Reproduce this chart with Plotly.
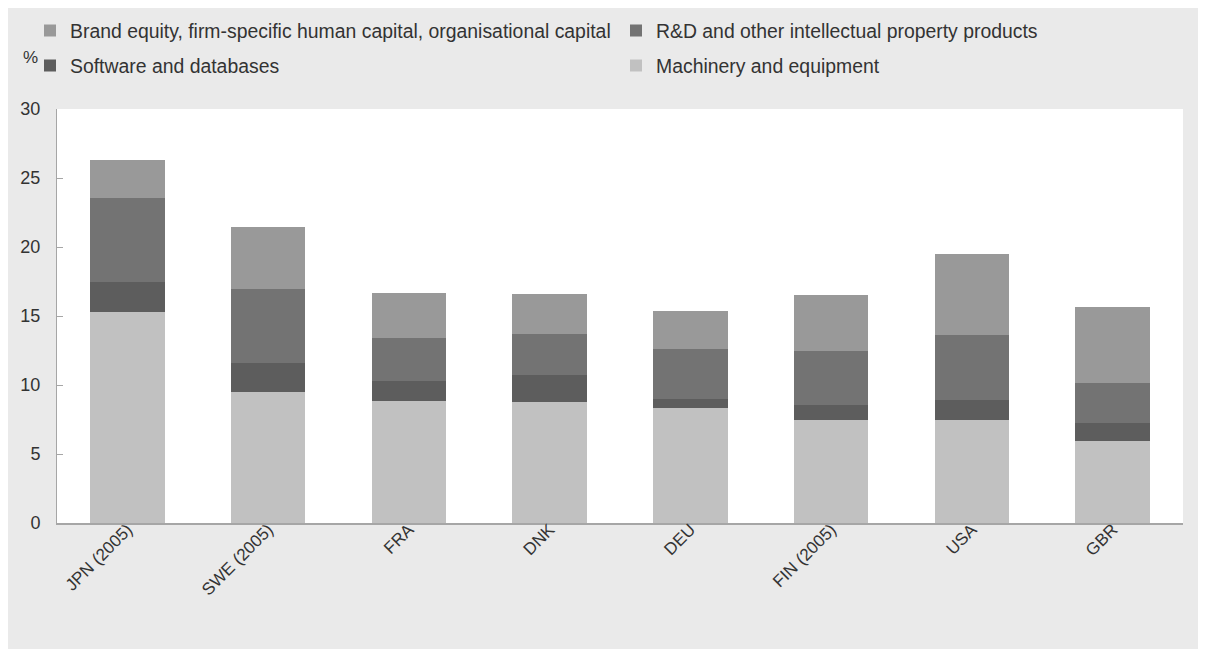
import plotly.graph_objects as go

countries = ["JPN (2005)", "SWE (2005)", "FRA", "DNK", "DEU", "FIN (2005)", "USA", "GBR"]
machinery = [15.27, 9.52, 8.86, 8.77, 8.31, 7.46, 7.46, 5.92]
software = [2.22, 2.05, 1.43, 1.95, 0.65, 1.07, 1.43, 1.35]
rnd = [6.08, 5.41, 3.14, 2.98, 3.62, 3.96, 4.71, 2.87]
brand = [2.71, 4.45, 3.26, 2.89, 2.81, 4.03, 5.87, 5.49]

names = {
    "brand": "Brand equity, firm-specific human capital, organisational capital",
    "rnd": "R&D and other intellectual property products",
    "software": "Software and databases",
    "machinery": "Machinery and equipment",
}
colors = {"brand": "#999999", "rnd": "#737373", "software": "#5d5d5d", "machinery": "#c1c1c1"}

FONT = "Liberation Sans, Arial, sans-serif"

# page is shown with an 8px body margin: lay out in figure coordinates = screen - 8
OFF = 8
W, H = 1206 - OFF, 641
L, T = 57 - OFF, 109 - OFF
R = W - (1183 - OFF)
B = H - (523 - OFF)
pw, ph = W - L - R, H - T - B


def px(xs):
    return (xs - OFF - L) / pw


def py(ys):
    return (H - B - (ys - OFF)) / ph


def cx(xs):
    return (xs - OFF) / W


def cy(ys):
    return 1 - (ys - OFF) / H


fig = go.Figure()
series = [("machinery", machinery, "legend4"), ("software", software, "legend3"),
          ("rnd", rnd, "legend2"), ("brand", brand, "legend")]
for key, vals, lg in series:
    fig.add_trace(go.Bar(
        x=countries, y=vals, name=names[key], marker_color=colors[key],
        marker_line_width=0, legend=lg,
    ))

LEGFONT = dict(size=19.4, color="#333333", family=FONT)


def leg(xs, ys):
    return dict(orientation="h", xref="container", yref="container", x=cx(xs), y=cy(ys),
                xanchor="left", yanchor="middle",
                bgcolor="rgba(0,0,0,0)", font=LEGFONT, itemclick=False, itemdoubleclick=False)


fig.update_layout(
    width=W, height=H,
    margin=dict(l=L, r=R, t=T, b=B, autoexpand=False),
    barmode="stack", bargap=0.47,
    paper_bgcolor="#eaeaea", plot_bgcolor="white",
    font=dict(family=FONT, size=18, color="#333333"),
    showlegend=True,
    legend=leg(30, 31),
    legend2=leg(616, 31),
    legend3=leg(30, 66),
    legend4=leg(616, 66),
    xaxis=dict(showline=True, linecolor="#a6a6a6", linewidth=2, ticks="", tickangle=-45,
               ticklabelstandoff=-12, tickfont=dict(size=17, color="#333333")),
    yaxis=dict(range=[0, 30], dtick=5, showgrid=False, zeroline=False, showline=True,
               linecolor="#a6a6a6", linewidth=1, ticks="inside", ticklen=6, tickcolor="#a6a6a6",
               ticklabelstandoff=12, tickfont=dict(size=18, color="#333333")),
    annotations=[dict(text="%", xref="paper", yref="paper", x=px(30), y=py(58), showarrow=False,
                      xanchor="center", yanchor="middle", font=dict(size=17, color="#333333"))],
)

fig.write_html("out.html")
